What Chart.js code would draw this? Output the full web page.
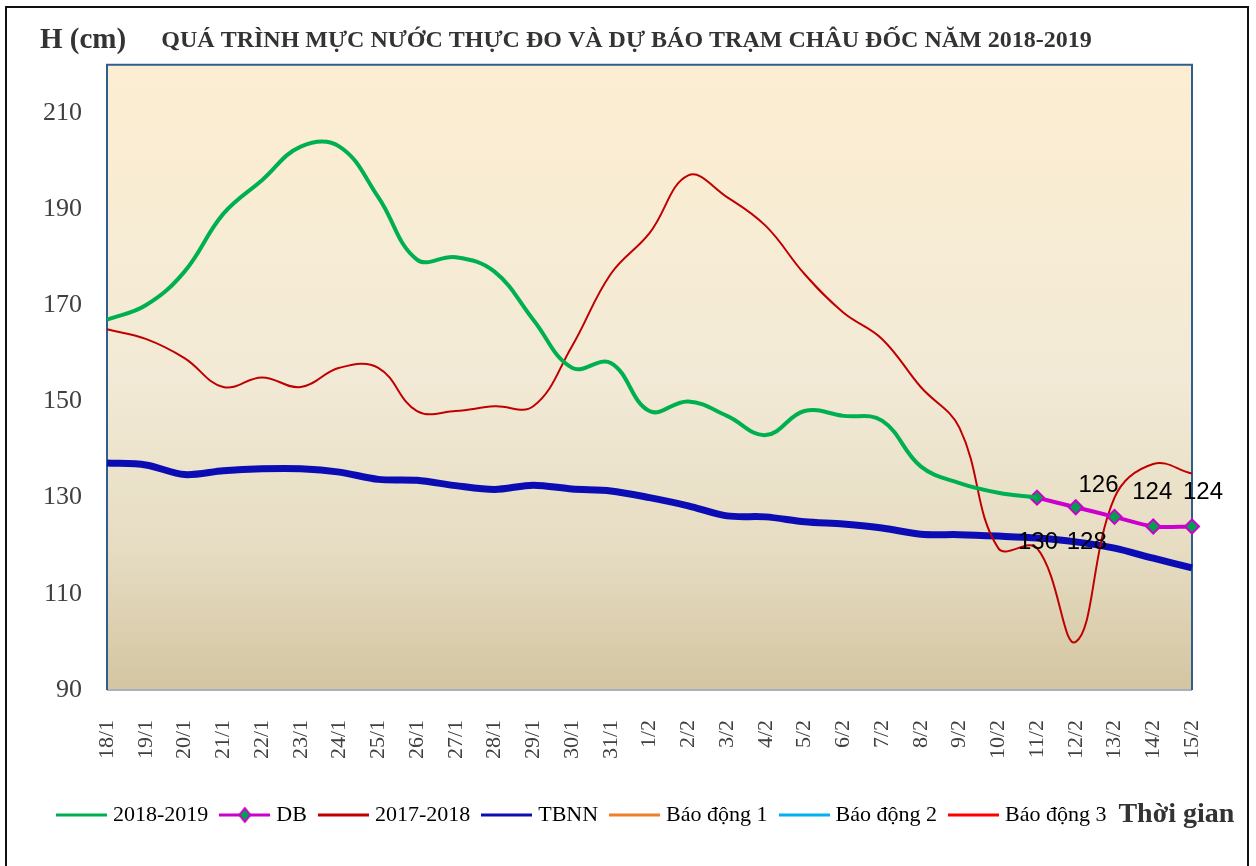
<!DOCTYPE html>
<html><head><meta charset="utf-8">
<script src="https://cdn.jsdelivr.net/npm/chart.js@4.4.1/dist/chart.umd.min.js"></script>
<style>html,body{margin:0;padding:0;background:#fff;}#wrap{width:1256px;height:866px;}</style>
</head><body><div id="wrap"><canvas id="c" width="1256" height="866"></canvas></div>
<script>
const categories = ['18/1','19/1','20/1','21/1','22/1','23/1','24/1','25/1','26/1','27/1','28/1','29/1','30/1','31/1','1/2','2/2','3/2','4/2','5/2','6/2','7/2','8/2','9/2','10/2','11/2','12/2','13/2','14/2','15/2'];
const series2018_2019 = [167,170,177,189,196,203,203,192.5,179.5,180,177,167,157,158,148,150,147,143,148,147,146,136.5,133,131,130,null,null,null,null];
const seriesDB = [null,null,null,null,null,null,null,null,null,null,null,null,null,null,null,null,null,null,null,null,null,null,null,null,130,128,126,124,124];
const series2017_2018 = [165,163,159,153,155,153,157,157,148,148,149,149,161.5,176.5,185,197,192.5,186.5,176.5,168.5,163,153,144.5,119.5,119.5,100,130,137,135];
const seriesTBNN = [137.2,136.8,134.8,135.6,136,136,135.3,133.8,133.6,132.5,131.7,132.6,131.8,131.4,130,128.3,126.2,126,125,124.5,123.7,122.4,122.3,122,121.6,120.8,119.5,117.4,115.4];
const seriesBaoDong1 = [];
const seriesBaoDong2 = [];
const seriesBaoDong3 = [];
const yTickValues = [90,110,130,150,170,190,210];
const seriesNames = ['2018-2019','DB','2017-2018','TBNN','Báo động 1','Báo động 2','Báo động 3'];
const titleText = 'QUÁ TRÌNH MỰC NƯỚC THỰC ĐO VÀ DỰ BÁO TRẠM CHÂU ĐỐC NĂM 2018-2019';
const yAxisText = 'H (cm)';
const xAxisText = 'Thời gian';

// styling (not data)
const SERIF = "'Liberation Serif','Times New Roman',serif";
const SANS = "'Liberation Sans',Arial,sans-serif";
const colors = ['#00B050','#CC00CC','#C00000','#0C0CB4','#F07D2A','#00B0F0','#FF0000'];
const dbLabelOffsets = [[1,45],[11,35],[-16,-31],[-1,-34],[11,-34]];

function legendImage(color, withDiamond){
  const cv = document.createElement('canvas');
  cv.width = 51; cv.height = 18;
  const g = cv.getContext('2d');
  g.strokeStyle = color; g.lineWidth = 3;
  g.beginPath(); g.moveTo(0,9); g.lineTo(51,9); g.stroke();
  if (withDiamond){
    g.fillStyle = '#00A04E'; g.strokeStyle = color; g.lineWidth = 2;
    g.beginPath(); g.moveTo(25.5,2); g.lineTo(31,9); g.lineTo(25.5,16); g.lineTo(20,9); g.closePath();
    g.fill(); g.stroke();
  }
  return cv;
}

const decor = {
  id: 'decor',
  beforeDraw(chart){
    const ctx = chart.ctx, a = chart.chartArea;
    ctx.save();
    ctx.fillStyle = '#fff'; ctx.fillRect(0,0,chart.width,chart.height);
    ctx.strokeStyle = '#111'; ctx.lineWidth = 2;
    ctx.strokeRect(6,7,1242,900);
    const gr = ctx.createLinearGradient(0,a.top,0,a.bottom);
    gr.addColorStop(0,'#FDEED2');
    gr.addColorStop(0.5,'#F2EAD6');
    gr.addColorStop(0.78,'#E6DCC2');
    gr.addColorStop(1,'#D3C5A1');
    ctx.fillStyle = gr;
    ctx.fillRect(a.left,a.top,a.right-a.left,a.bottom-a.top);
    ctx.restore();
  },
  beforeDatasetsDraw(chart){
    const ctx = chart.ctx, a = chart.chartArea;
    ctx.save();
    ctx.lineWidth = 2;
    ctx.strokeStyle = '#A8B0BE';
    ctx.beginPath(); ctx.moveTo(a.left,a.bottom); ctx.lineTo(a.right,a.bottom); ctx.stroke();
    ctx.strokeStyle = '#2F5D8E';
    ctx.beginPath(); ctx.moveTo(a.left,a.bottom); ctx.lineTo(a.left,a.top); ctx.lineTo(a.right,a.top); ctx.lineTo(a.right,a.bottom); ctx.stroke();
    ctx.restore();
  },
  afterLayout(chart){
    const lg = chart.legend;
    if (lg && lg.lineWidths) {
      const pad = lg.options.labels.padding;
      const cur = (lg.left + pad + lg.right - lg.lineWidths[0]) / 2;
      const shift = 61 - cur;
      lg.left += shift; lg.right += shift;
    }
    const tb = chart.titleBlock;
    if (tb) {
      const tshift = 626.5 - (tb.left + tb.right) / 2;
      tb.left += tshift; tb.right += tshift;
    }
  },
  afterDatasetsDraw(chart){
    const ctx = chart.ctx;
    const meta = chart.getDatasetMeta(1);
    ctx.save();
    ctx.font = '24px ' + SANS;
    ctx.fillStyle = '#000';
    ctx.textAlign = 'center'; ctx.textBaseline = 'middle';
    let k = 0;
    seriesDB.forEach((v,i) => {
      if (v === null) return;
      const el = meta.data[i];
      const off = dbLabelOffsets[k++] || [0,-30];
      ctx.fillText(String(v), el.x + off[0], el.y + off[1]);
    });
    ctx.restore();
  },
  afterDraw(chart){
    const ctx = chart.ctx;
    ctx.save();
    ctx.fillStyle = '#333';
    ctx.textBaseline = 'middle'; ctx.textAlign = 'left';
    ctx.font = 'bold 29px ' + SERIF;
    ctx.fillText(yAxisText, 40, 41);
    const lg = chart.legend;
    const hb = lg.legendHitBoxes[lg.legendHitBoxes.length-1];
    ctx.font = 'bold 28px ' + SERIF;
    ctx.fillText(xAxisText, hb.left + hb.width + 12, hb.top + hb.height/2);
    ctx.restore();
  }
};

const datasets = [
  {label: seriesNames[0], data: series2018_2019, borderColor: colors[0], borderWidth: 4, pointRadius: 0, tension: 0.4},
  {label: seriesNames[1], data: seriesDB, borderColor: colors[1], borderWidth: 4, pointStyle: 'rectRot', pointRadius: 7, pointBackgroundColor: '#00A04E', pointBorderColor: colors[1], pointBorderWidth: 2, tension: 0.3},
  {label: seriesNames[2], data: series2017_2018, borderColor: colors[2], borderWidth: 2, pointRadius: 0, tension: 0.4},
  {label: seriesNames[3], data: seriesTBNN, borderColor: colors[3], borderWidth: 7, pointRadius: 0, tension: 0.3},
  {label: seriesNames[4], data: seriesBaoDong1, borderColor: colors[4], borderWidth: 3, pointRadius: 0},
  {label: seriesNames[5], data: seriesBaoDong2, borderColor: colors[5], borderWidth: 3, pointRadius: 0},
  {label: seriesNames[6], data: seriesBaoDong3, borderColor: colors[6], borderWidth: 3, pointRadius: 0}
];

new Chart(document.getElementById('c'), {
  type: 'line',
  data: {labels: categories, datasets},
  plugins: [decor],
  options: {
    responsive: false, animation: false, devicePixelRatio: 1,
    layout: {padding: {left: 0, right: 64, top: 0, bottom: 30}},
    plugins: {
      tooltip: {enabled: false},
      title: {display: true, text: titleText, color: '#333', font: {family: SERIF, size: 24, weight: 'bold'}, padding: {top: 26, bottom: 10}},
      legend: {
        position: 'bottom',
        labels: {
          usePointStyle: true, pointStyleWidth: 41, padding: 16,
          font: {family: SERIF, size: 22}, color: '#404040',
          generateLabels(chart){
            return chart.data.datasets.map((ds,i) => ({
              text: ds.label, pointStyle: legendImage(ds.borderColor, i === 1),
              fillStyle: ds.borderColor, strokeStyle: ds.borderColor, lineWidth: 0,
              hidden: false, datasetIndex: i
            }));
          }
        }
      }
    },
    scales: {
      x: {
        offset: false,
        grid: {display: false, drawTicks: false},
        border: {display: false},
        ticks: {minRotation: 90, maxRotation: 90, autoSkip: false, padding: 30, color: '#404040', font: {family: SERIF, size: 22}},
        afterFit(s){ s.height = 98; }
      },
      y: {
        min: 90, max: 220,
        grid: {display: false, drawTicks: false},
        border: {display: false},
        ticks: {padding: 25, color: '#404040', font: {family: SERIF, size: 26}},
        afterBuildTicks(s){ s.ticks = yTickValues.map(v => ({value: v})); },
        afterFit(s){ s.width = 107; }
      }
    }
  }
});
</script></body></html>
